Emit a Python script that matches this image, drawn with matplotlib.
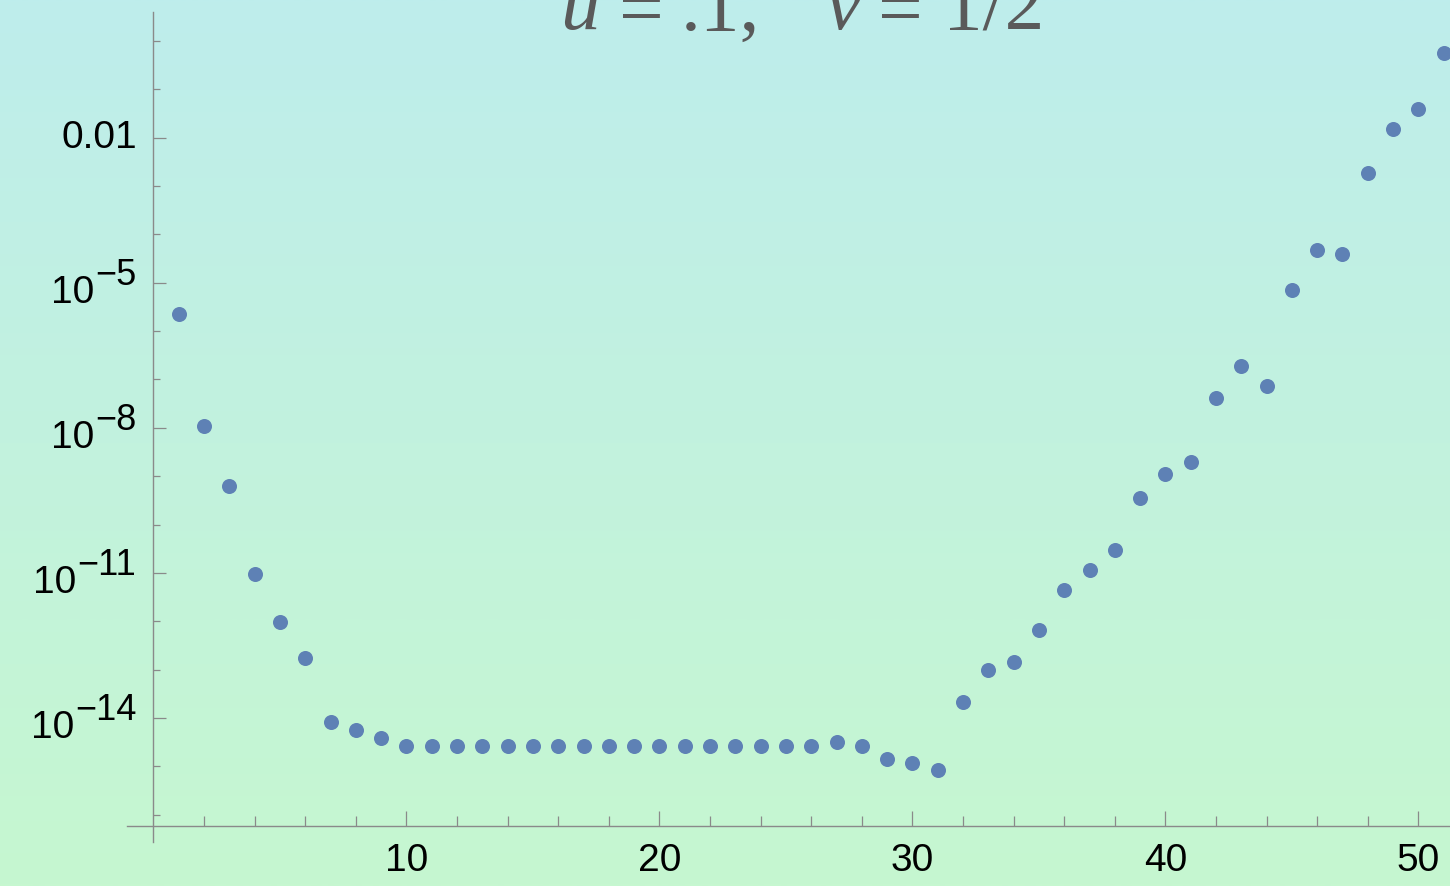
import numpy as np
import matplotlib
matplotlib.use("Agg")
import matplotlib.pyplot as plt
from matplotlib.colors import to_rgb
from matplotlib.ticker import FixedLocator, NullFormatter

# ---- data -------------------------------------------------------------
index = list(range(1, 52))
values = [
    2.29e-6, 1.09e-8, 6.25e-10, 9.46e-12, 9.50e-13, 1.71e-13, 8.10e-15,
    5.55e-15, 3.78e-15, 2.59e-15, 2.59e-15, 2.59e-15, 2.59e-15, 2.59e-15,
    2.59e-15, 2.59e-15, 2.59e-15, 2.59e-15, 2.59e-15, 2.59e-15, 2.59e-15,
    2.59e-15, 2.59e-15, 2.59e-15, 2.59e-15, 2.59e-15, 3.13e-15, 2.59e-15,
    1.43e-15, 1.18e-15, 8.24e-16, 2.10e-14, 9.66e-14, 1.41e-13, 6.49e-13,
    4.36e-12, 1.13e-11, 2.97e-11, 3.53e-10, 1.11e-9, 1.96e-9, 4.13e-8,
    1.92e-7, 7.43e-8, 7.18e-6, 4.82e-5, 3.99e-5, 1.84e-3, 1.49e-2,
    3.86e-2, 0.557,
]
x_major_ticks = [10, 20, 30, 40, 50]
x_minor_ticks = [2, 4, 6, 8, 12, 14, 16, 18, 22, 24, 26, 28, 32, 34, 36, 38,
                 42, 44, 46, 48]
y_major_ticks = [1e-2, 1e-5, 1e-8, 1e-11, 1e-14]
y_major_labels = [("0.01", None), ("10", "\u22125"), ("10", "\u22128"),
                  ("10", "\u221211"), ("10", "\u221214")]
y_minor_ticks = [1e0, 1e-1, 1e-3, 1e-4, 1e-6, 1e-7, 1e-9, 1e-10, 1e-12,
                 1e-13, 1e-15, 1e-16]
# plot label "u = .1,   v = 1/2", split into pieces: (text, italic, centre px)
title_parts = [("u", True, 580), ("=", False, 641), (".1,", False, 720),
               ("v", True, 843), ("=", False, 900), ("1/2", False, 994)]

# ---- style ------------------------------------------------------------
LABEL_FONT = "Liberation Sans"
TITLE_FONT = "Liberation Serif"
AXIS_GRAY = "#8a8a8a"
POINT_BLUE = "#5E81B5"

W, H = 1450, 886
fig = plt.figure(figsize=(W / 100, H / 100), dpi=100)

# soft cyan-to-mint background wash
top, bottom = np.array(to_rgb("#BEEDEC")), np.array(to_rgb("#C6F7D0"))
t = np.linspace(0, 1, 256)[:, None, None]
grad = top * (1 - t) + bottom * t
bg = fig.add_axes([0, 0, 1, 1], zorder=0)
bg.imshow(grad, aspect="auto", extent=[0, 1, 0, 1], interpolation="bilinear")
bg.axis("off")

# plotting area: left edge where the x axis line starts, top where the y axis ends
left_px, right_px, top_px, bot_px = 127, 1450, 11.7, 841.7
ax = fig.add_axes([left_px / W, (H - bot_px) / H,
                   (right_px - left_px) / W, (bot_px - top_px) / H], zorder=1)
ax.patch.set_alpha(0)
ax.set_yscale("log")
ax.set_xlim(-1.047, 51.25)
ax.set_ylim(10 ** -16.56, 10 ** 0.606)

for side in ("top", "right"):
    ax.spines[side].set_visible(False)
ax.spines["left"].set_position(("data", 0))
ax.spines["bottom"].set_position(("data", 10 ** -16.236))
for side in ("left", "bottom"):
    ax.spines[side].set_color(AXIS_GRAY)
    ax.spines[side].set_linewidth(1.0)

ax.scatter(index, values, s=117, color=POINT_BLUE, linewidths=0,
           zorder=3, clip_on=False)

# x ticks
ax.xaxis.set_major_locator(FixedLocator(x_major_ticks))
ax.xaxis.set_minor_locator(FixedLocator(x_minor_ticks))
ax.tick_params(axis="x", which="major", direction="in", length=11,
               width=0.9, color=AXIS_GRAY, labelsize=28, pad=12)
ax.tick_params(axis="x", which="minor", direction="in", length=7,
               width=0.9, color=AXIS_GRAY)
for lab in ax.get_xticklabels():
    lab.set_fontfamily(LABEL_FONT)

# y ticks
ax.yaxis.set_major_locator(FixedLocator(y_major_ticks))
ax.yaxis.set_minor_locator(FixedLocator(y_minor_ticks))
ax.yaxis.set_major_formatter(NullFormatter())
ax.yaxis.set_minor_formatter(NullFormatter())
ax.tick_params(axis="y", which="major", direction="in", length=9.5,
               width=0.9, color=AXIS_GRAY)
ax.tick_params(axis="y", which="minor", direction="in", length=5,
               width=0.9, color=AXIS_GRAY)

for val, (base, expo) in zip(y_major_ticks, y_major_labels):
    if expo is None:
        ax.annotate(base, xy=(0, val), xycoords="data", xytext=(-16, -10),
                    textcoords="offset pixels", ha="right", va="baseline",
                    fontsize=28, family=LABEL_FONT, color="black")
    else:
        e = ax.annotate(expo, xy=(0, val), xycoords="data", xytext=(-17, -2),
                        textcoords="offset pixels", ha="right", va="baseline",
                        fontsize=26, family=LABEL_FONT, color="black")
        ax.annotate(base, xy=(0, val), xycoords=(e, "data"),
                    xytext=(-1, -20), textcoords="offset pixels",
                    ha="right", va="baseline", fontsize=28,
                    family=LABEL_FONT, color="black")

# plot label
for text, italic, cx in title_parts:
    base_y = 34 if text == "=" else 29.5
    fig.text(cx / W, (H - base_y) / H, text, ha="center", va="baseline",
             fontsize=57, family=TITLE_FONT,
             style="italic" if italic else "normal", color="#5a5a5a")

fig.savefig("out.png", dpi=100)
